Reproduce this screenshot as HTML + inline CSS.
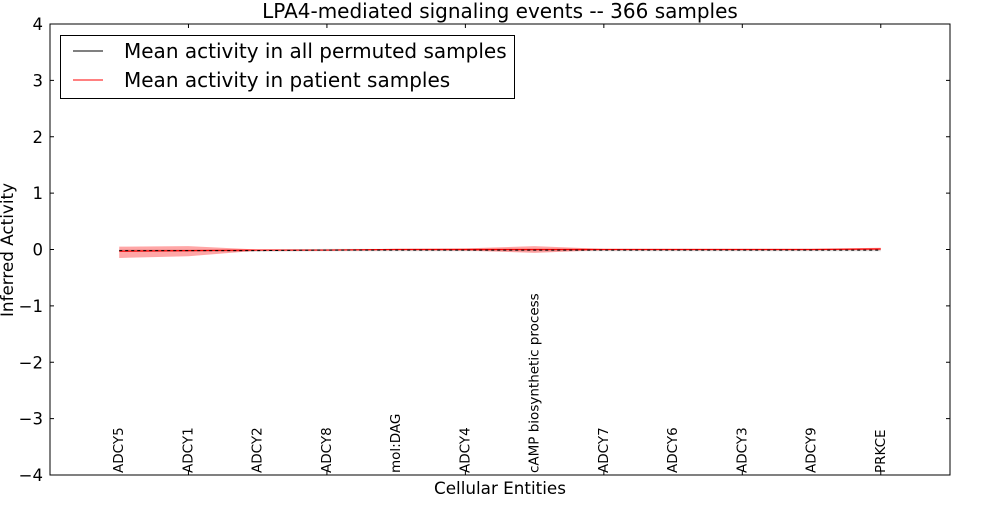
<!DOCTYPE html>
<html><head><meta charset="utf-8"><style>
body{margin:0;background:#fff;font-family:"Liberation Sans","DejaVu Sans",sans-serif}
svg text{font-family:"DejaVu Sans","Liberation Sans",sans-serif}
</style></head><body>
<svg id="chart" width="1000" height="500" xmlns="http://www.w3.org/2000/svg">
<rect width="1000" height="500" fill="#fff"/>
<g id="bands"></g>
<g id="lines"></g>
<rect x="50" y="24" width="900" height="451" fill="none" stroke="#000" stroke-width="1"/>
<g id="ticks"></g>
<text x="500" y="18" text-anchor="middle" font-size="20">LPA4-mediated signaling events -- 366 samples</text>
<text x="500" y="494" text-anchor="middle" font-size="16.8">Cellular Entities</text>
<text transform="translate(13,250) rotate(-90)" text-anchor="middle" font-size="16.8">Inferred Activity</text>
<g>
<rect x="60.5" y="35.5" width="454" height="63" fill="#fff" stroke="#000"/>
<line x1="73" y1="51" x2="103" y2="51" stroke="#000"/>
<text x="124" y="58" font-size="20">Mean activity in all permuted samples</text>
<line x1="73" y1="80" x2="103" y2="80" stroke="#f00"/>
<text x="124" y="87" font-size="20">Mean activity in patient samples</text>
</g>
</svg>
<script>
const categories=["ADCY5","ADCY1","ADCY2","ADCY8","mol:DAG","ADCY4","cAMP biosynthetic process","ADCY7","ADCY6","ADCY3","ADCY9","PRKCE"];
const patientMean=[-0.03,-0.02,-0.01,-0.01,0.0,0.0,0.0,0.0,0.0,0.0,0.0,0.01];
const patientUpper=[0.05,0.06,0.0,0.0,0.01,0.02,0.06,0.01,0.01,0.01,0.01,0.03];
const patientLower=[-0.15,-0.12,-0.02,-0.02,-0.01,-0.02,-0.06,-0.01,-0.01,-0.01,-0.01,-0.01];
const permMean=[-0.02,-0.02,-0.02,-0.01,-0.01,-0.01,-0.01,-0.01,-0.01,-0.01,-0.01,-0.01];
const permUpper=[0.0,0.0,0.0,0.01,0.01,0.01,0.01,0.01,0.01,0.01,0.01,0.01];
const permLower=[-0.04,-0.04,-0.04,-0.03,-0.03,-0.03,-0.03,-0.03,-0.03,-0.03,-0.03,-0.03];
const yTicks=[-4,-3,-2,-1,0,1,2,3,4];
const yTickLabels=["\u22124","\u22123","\u22122","\u22121","0","1","2","3","4"];
const xTicks=[0,2,4,6,8,10,12];
const NS="http://www.w3.org/2000/svg";
const X=v=>50+(v/13)*900;
const Y=v=>249.5-(v/8)*451;
const cx=i=>X(i+1);
function mk(t,a,p){const e=document.createElementNS(NS,t);for(const k in a)e.setAttribute(k,a[k]);p.appendChild(e);return e;}
const bands=document.getElementById('bands'),lines=document.getElementById('lines'),ticks=document.getElementById('ticks');
function area(up,lo,fill,op){let d=up.map((v,i)=>(i?'L':'M')+cx(i)+','+Y(v)).join('');for(let i=lo.length-1;i>=0;i--)d+='L'+cx(i)+','+Y(lo[i]);return mk('path',{d:d+'Z',fill:fill,'fill-opacity':op},bands);}
const pb=area(permUpper,permLower,'#999',0.35);


const rb=area(patientUpper,patientLower,'#f00',0.35);


const pts=a=>a.map((v,i)=>cx(i)+','+Y(v)).join(' ');
const rl=mk('polyline',{points:pts(patientMean),fill:'none',stroke:'#f00','stroke-width':1.2},lines);


const bl=mk('polyline',{points:pts(permMean),fill:'none',stroke:'#000','stroke-width':1,'stroke-dasharray':'3,3'},lines);


yTicks.forEach((v,i)=>{const y=Y(v);
const t1=mk('line',{x1:50,x2:54,y1:y,y2:y,stroke:'#000'},ticks);


const t2=mk('line',{x1:946,x2:950,y1:y,y2:y,stroke:'#000'},ticks);


const tx=mk('text',{x:43,y:y+6,'text-anchor':'end','font-size':16.5},ticks);tx.textContent=yTickLabels[i];

});
xTicks.forEach(v=>{const x=X(v);
const a=mk('line',{x1:x,x2:x,y1:24,y2:28,stroke:'#000'},ticks);


const b=mk('line',{x1:x,x2:x,y1:471,y2:475,stroke:'#000'},ticks);

});
categories.forEach((c,i)=>{const x=cx(i)+4;
const t=mk('text',{transform:`translate(${x},473) rotate(-90)`,'font-size':13.5},ticks);t.textContent=c;

});
</script>
</body></html>
